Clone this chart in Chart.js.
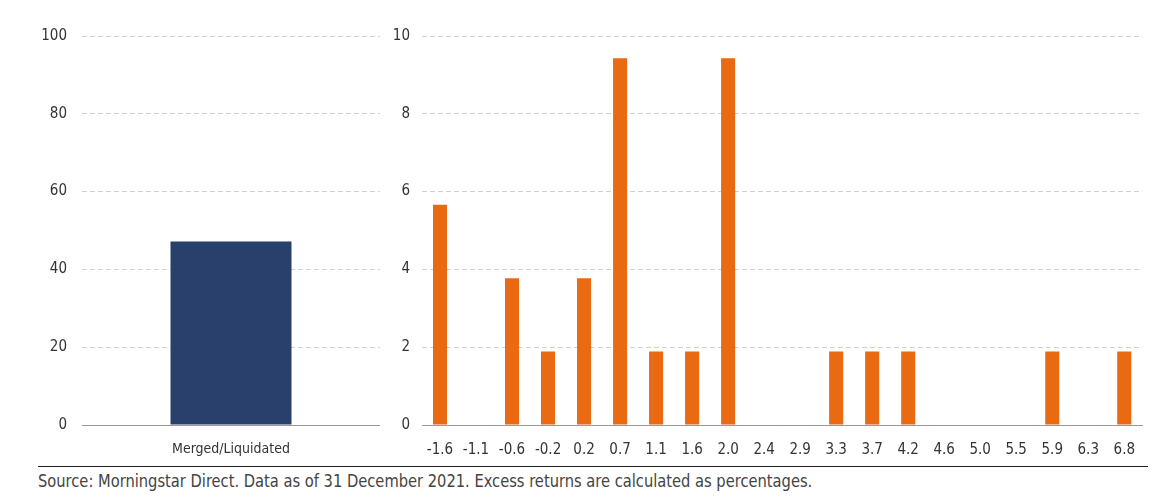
<!DOCTYPE html>
<html>
<head>
<meta charset="utf-8">
<script src="https://cdn.jsdelivr.net/npm/chart.js@4"></script>
<style>
    body { margin: 0; background: #fff; width: 1168px; height: 501px; position: relative; overflow: hidden; }
    #leftWrap { position: absolute; left: 0; top: 0; width: 380px; height: 460px; }
    #rightWrap { position: absolute; left: 380px; top: 0; width: 763px; height: 460px; }
    #rule { position: absolute; left: 38px; top: 466px; width: 1110px; height: 0; border-top: 1.5px solid #222; }
    #source { position: absolute; left: 38px; top: 471px; font-family: "DejaVu Sans", sans-serif; font-stretch: condensed; font-size: 17px; color: #444; white-space: nowrap; transform: scaleX(0.96); transform-origin: left top; }
</style>
</head>
<body>
<div id="leftWrap"><canvas id="leftChart"></canvas></div>
<div id="rightWrap"><canvas id="rightChart"></canvas></div>
<div id="rule"></div>
<div id="source">Source: Morningstar Direct. Data as of 31 December 2021. Excess returns are calculated as percentages.</div>
<script>
const leftLabels = ['Merged/Liquidated'];
const leftValues = [47.17];
const leftTicks = [0, 20, 40, 60, 80, 100];

const returnBins = ['-1.6', '-1.1', '-0.6', '-0.2', '0.2', '0.7', '1.1', '1.6', '2.0', '2.4',
    '2.9', '3.3', '3.7', '4.2', '4.6', '5.0', '5.5', '5.9', '6.3', '6.8'];
const binValues = [5.66, 0, 3.77, 1.89, 3.77, 9.43, 1.89, 1.89, 9.43, 0,
    0, 1.89, 1.89, 1.89, 0, 0, 0, 1.89, 0, 1.89];
const rightTicks = [0, 2, 4, 6, 8, 10];

Chart.defaults.font.family = '"DejaVu Sans", sans-serif';
// goes into the canvas font string, gives the condensed face
Chart.defaults.font.weight = 'condensed';
Chart.defaults.color = '#333';

function makeOptions(max, ticks, yWidth, tickPad, xFontSize) {
    return {
        responsive: true,
        maintainAspectRatio: false,
        animation: false,
        layout: { padding: { top: 36, right: 0, left: 0, bottom: 0 } },
        plugins: { legend: { display: false }, tooltip: { enabled: false } },
        scales: {
            x: {
                grid: { display: false },
                border: { display: true, color: '#999', width: 1 },
                ticks: { font: { size: xFontSize }, color: '#333', padding: 8, maxRotation: 0, autoSkip: false },
                afterFit: s => { s.height = 35; }
            },
            y: {
                min: 0,
                max: max,
                afterBuildTicks: s => { s.ticks = ticks.map(v => ({ value: v })); },
                grid: { color: '#d0d0d0', drawTicks: false, lineWidth: 1 },
                border: { display: false, dash: [5, 3] },
                ticks: { font: { size: 15 }, color: '#333', padding: tickPad },
                afterFit: s => { s.width = yWidth; }
            }
        }
    };
}

new Chart(document.getElementById('leftChart'), {
    type: 'bar',
    data: {
        labels: leftLabels,
        datasets: [{ data: leftValues, backgroundColor: '#293f6c', barPercentage: 0.406, categoryPercentage: 1 }]
    },
    options: makeOptions(100, leftTicks, 82, 15, 14)
});

new Chart(document.getElementById('rightChart'), {
    type: 'bar',
    data: {
        labels: returnBins,
        datasets: [{ data: binValues, backgroundColor: '#e96a12', barPercentage: 0.39, categoryPercentage: 1 }]
    },
    options: makeOptions(10, rightTicks, 42, 12, 15)
});
</script>
</body>
</html>
